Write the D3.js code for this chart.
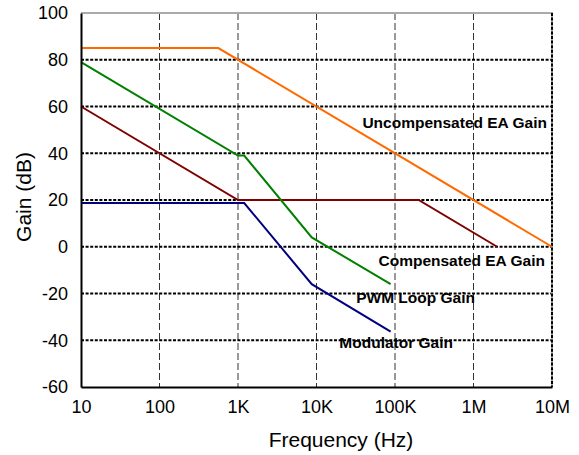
<!DOCTYPE html>
<html>
<head>
<meta charset="utf-8">
<script src="https://cdn.jsdelivr.net/npm/d3@7"></script>
<style>
  body { margin: 0; background: #fff; }
  text { font-family: "Liberation Sans", Arial, sans-serif; }
</style>
</head>
<body>
<div id="chart"></div>
<script>
const width = 579;
const height = 455;

// break points of each asymptotic curve, [frequency Hz, gain dB]
const uncompensatedEA = [[10, 85], [562, 85], [1e7, 0]];
const compensatedEA = [[10, 60], [1000, 20], [200000, 20], [2000000, 0]];
const pwmLoop = [[10, 79], [1000, 39], [1200, 39], [8700, 4], [88000, -16]];
const modulator = [[10, 18.7], [1200, 18.7], [8700, -16], [88000, -36.3]];

const xTicks = [10, 100, 1e3, 1e4, 1e5, 1e6, 1e7];
const xTickLabels = ["10", "100", "1K", "10K", "100K", "1M", "10M"];
const yTicks = [-60, -40, -20, 0, 20, 40, 60, 80, 100];

const series = [
  { name: "Uncompensated EA Gain", data: uncompensatedEA, color: "#ff6a00", label: [547, 123] },
  { name: "Compensated EA Gain", data: compensatedEA, color: "#800000", label: [545, 261] },
  { name: "PWM Loop Gain", data: pwmLoop, color: "#008000", label: [475, 298] },
  { name: "Modulator Gain", data: modulator, color: "#000080", label: [453, 343] }
];

const margin = { left: 81, top: 13, right: 27, bottom: 68 };

const x = d3.scaleLog()
  .domain([10, 1e7])
  .range([margin.left, width - margin.right]);

const y = d3.scaleLinear()
  .domain([-60, 100])
  .range([height - margin.bottom, margin.top]);

const svg = d3.select("#chart")
  .append("svg")
  .attr("width", width)
  .attr("height", height);

let grid = svg.append("g").attr("class", "grid");

// vertical dashed decade lines
grid.selectAll(".vline")
  .data(xTicks.slice(1, -1))
  .enter()
  .append("line")
  .attr("x1", d => x(d))
  .attr("x2", d => x(d))
  .attr("y1", y(100))
  .attr("y2", y(-60))
  .attr("stroke", "#333")
  .attr("stroke-width", 1)
  .attr("stroke-dasharray", "7,3");

// frame top / right: grey under black dots
svg.append("path")
  .attr("d", `M${x(10)},${y(100)}H${x(1e7)}V${y(-60)}`)
  .attr("fill", "none")
  .attr("stroke", "#aaa")
  .attr("stroke-width", 2);

// horizontal dotted lines
grid.selectAll(".hline")
  .data(yTicks.slice(1))
  .enter()
  .append("line")
  .attr("x1", x(10))
  .attr("x2", x(1e7))
  .attr("y1", d => y(d))
  .attr("y2", d => y(d))
  .attr("stroke", "#000")
  .attr("stroke-width", 2)
  .attr("stroke-dasharray", "3,1.6");

svg.append("line")
  .attr("x1", x(1e7)).attr("x2", x(1e7))
  .attr("y1", y(100)).attr("y2", y(-60))
  .attr("stroke", "#000")
  .attr("stroke-width", 2)
  .attr("stroke-dasharray", "3,1.6");

// curves
const line = d3.line()
  .x(d => x(d[0]))
  .y(d => y(d[1]));

svg.selectAll(".curve")
  .data(series)
  .enter()
  .append("path")
  .attr("d", d => line(d.data))
  .attr("fill", "none")
  .attr("stroke", d => d.color)
  .attr("stroke-width", 2);

// axes (left + bottom solid)
const xAxis = d3.axisBottom(x)
  .tickValues(xTicks)
  .tickFormat((d, i) => xTickLabels[i])
  .tickSize(0)
  .tickPadding(9);

const yAxis = d3.axisLeft(y)
  .tickValues(yTicks)
  .tickFormat(d => String(d))
  .tickSize(0)
  .tickPadding(13);

let gx = svg.append("g")
  .attr("transform", `translate(0,${y(-60)})`)
  .call(xAxis);
let gy = svg.append("g")
  .attr("transform", `translate(${x(10)},0)`)
  .call(yAxis);

[gx, gy].forEach(g => {
  g.select(".domain").attr("stroke", "#000").attr("stroke-width", 2);
  g.selectAll("text")
    .attr("fill", "#000")
    .style("font-size", "18px");
});
gx.selectAll("text").attr("y", 20).attr("dy", "0.35em");

// curve labels
svg.selectAll(".label")
  .data(series)
  .enter()
  .append("text")
  .attr("x", d => d.label[0])
  .attr("y", d => d.label[1])
  .attr("dy", "0.35em")
  .attr("text-anchor", "end")
  .style("font-size", "15.5px")
  .style("font-weight", "bold")
  .text(d => d.name);

// axis titles
svg.append("text")
  .attr("x", 341)
  .attr("y", 440)
  .attr("dy", "0.35em")
  .attr("text-anchor", "middle")
  .style("font-size", "21px")
  .text("Frequency (Hz)");

svg.append("text")
  .attr("transform", "translate(24,197) rotate(-90)")
  .attr("dy", "0.35em")
  .attr("text-anchor", "middle")
  .style("font-size", "21px")
  .text("Gain (dB)");
</script>
</body>
</html>
